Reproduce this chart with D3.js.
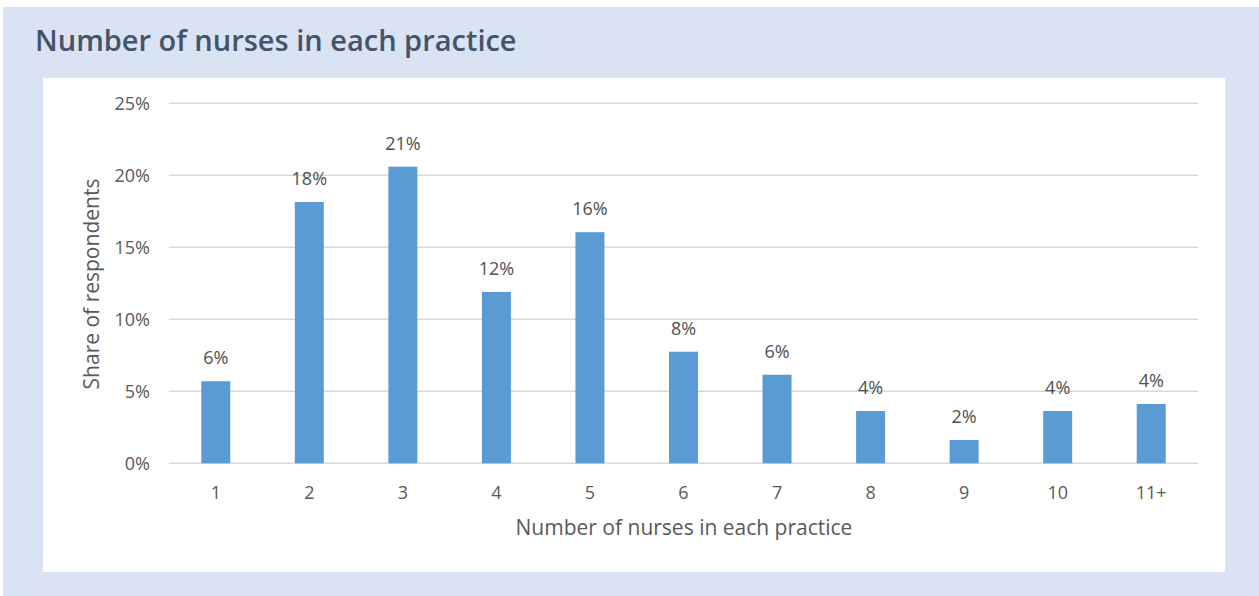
<!DOCTYPE html>
<html><head><meta charset="utf-8">
<script src="https://cdn.jsdelivr.net/npm/d3@7"></script>
<style>html,body{margin:0;padding:0;background:#fff;}</style>
</head><body>
<svg id="chart" width="1259" height="596"></svg>
<script>
const categories = ["1","2","3","4","5","6","7","8","9","10","11+"];
const shares = [0.057, 0.1815, 0.206, 0.119, 0.1605, 0.0775, 0.0615, 0.0363, 0.0162, 0.0363, 0.0412];
const yTicks = [0, 0.05, 0.10, 0.15, 0.20, 0.25];
const title = "Number of nurses in each practice";
const xTitle = "Number of nurses in each practice";
const yTitle = "Share of respondents";

(function(){
const svg = d3.select("#chart");
const font = "'Open Sans', sans-serif";
svg.append("rect").attr("x",3).attr("y",7).attr("width",1256).attr("height",589).attr("fill","#dae3f3");
svg.append("rect").attr("x",43).attr("y",78).attr("width",1182).attr("height",494).attr("fill","#ffffff");
svg.append("text").attr("x",35).attr("y",51).attr("font-family",font).attr("font-weight",600)
  .attr("font-size",29).attr("fill","#44546a").text(title);

const pL=169,pR=1198,pT=103.3,pB=463.3;
const x = d3.scaleBand().domain(categories).range([pL,pR]).paddingInner(0.69).paddingOuter(0.345);
const y = d3.scaleLinear().domain([0,0.25]).range([pB,pT]);

const g = svg.append("g");
g.selectAll("line.grid").data(yTicks).join("line").attr("class","grid")
  .attr("x1",pL).attr("x2",pR).attr("y1",d=>y(d)).attr("y2",d=>y(d))
  .attr("stroke","#d9d9d9").attr("stroke-width",1.5);

const yAxis = g.append("g").attr("transform",`translate(${pL},0)`)
  .call(d3.axisLeft(y).tickValues(yTicks).tickFormat(d3.format(".0%")).tickSize(0).tickPadding(19));
yAxis.select(".domain").remove();
yAxis.selectAll("text").attr("font-family",font).attr("font-size",18).attr("fill","#595959");

g.selectAll("rect.bar").data(shares).join("rect").attr("class","bar")
  .attr("x",(d,i)=>x(categories[i])).attr("width",x.bandwidth())
  .attr("y",d=>y(d)).attr("height",d=>pB-y(d)).attr("fill","#5b9bd5");

g.selectAll("text.lbl").data(shares).join("text").attr("class","lbl")
  .attr("x",(d,i)=>x(categories[i])+x.bandwidth()/2).attr("y",d=>y(d)-17)
  .attr("text-anchor","middle").attr("font-family",font).attr("font-size",18).attr("fill","#505050")
  .text(d=>d3.format(".0%")(d));

const xAxis = g.append("g").attr("transform",`translate(0,${pB})`)
  .call(d3.axisBottom(x).tickSize(0).tickPadding(23));
xAxis.select(".domain").remove();
xAxis.selectAll("text").attr("font-family",font).attr("font-size",18).attr("fill","#595959");

svg.append("text").attr("x",684).attr("y",535).attr("text-anchor","middle")
  .attr("font-family",font).attr("font-size",21).attr("fill","#595959").text(xTitle);
svg.append("text").attr("transform",`translate(99,284) rotate(-90)`).attr("text-anchor","middle")
  .attr("font-family",font).attr("font-size",21).attr("fill","#595959").text(yTitle);
})();
</script>
</body></html>
